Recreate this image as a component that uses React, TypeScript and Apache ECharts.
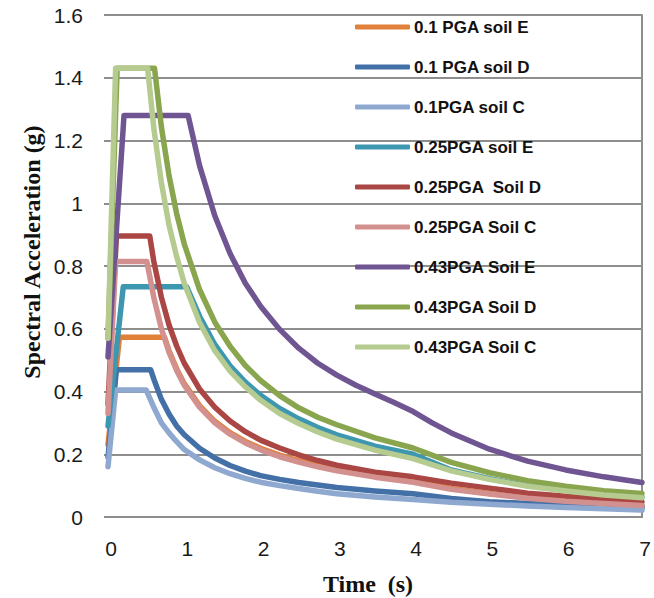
import React, { useEffect, useRef } from "react";
import * as echarts from "echarts";

// Period (s) vs spectral acceleration (g)
const pga010SoilE: [number, number][] = [[0, 0.23], [0.15, 0.573], [0.74, 0.573], [0.8, 0.53], [0.9, 0.472], [1.0, 0.425], [1.2, 0.355], [1.4, 0.305], [1.6, 0.269], [1.8, 0.241], [2.0, 0.219], [2.25, 0.197], [2.5, 0.18], [2.75, 0.165], [3.0, 0.152], [3.5, 0.132], [4.0, 0.116], [4.5, 0.091], [5.0, 0.075], [5.5, 0.061], [6.0, 0.051], [6.5, 0.044], [7.0, 0.037]];
const pga010SoilD: [number, number][] = [[0, 0.19], [0.11, 0.469], [0.56, 0.469], [0.6, 0.44], [0.7, 0.375], [0.8, 0.328], [0.9, 0.29], [1.0, 0.262], [1.2, 0.219], [1.4, 0.188], [1.6, 0.164], [1.8, 0.146], [2.0, 0.132], [2.25, 0.12], [2.5, 0.11], [2.75, 0.102], [3.0, 0.094], [3.5, 0.083], [4.0, 0.074], [4.5, 0.059], [5.0, 0.049], [5.5, 0.043], [6.0, 0.038], [6.5, 0.034], [7.0, 0.03]];
const pga010SoilC: [number, number][] = [[0, 0.16], [0.1, 0.405], [0.5, 0.405], [0.6, 0.35], [0.7, 0.3], [0.8, 0.268], [0.9, 0.24], [1.0, 0.215], [1.2, 0.182], [1.4, 0.157], [1.6, 0.138], [1.8, 0.123], [2.0, 0.111], [2.25, 0.1], [2.5, 0.091], [2.75, 0.082], [3.0, 0.074], [3.5, 0.064], [4.0, 0.056], [4.5, 0.047], [5.0, 0.041], [5.5, 0.035], [6.0, 0.03], [6.5, 0.026], [7.0, 0.022]];
const pga025SoilE: [number, number][] = [[0, 0.29], [0.2, 0.734], [1.03, 0.734], [1.2, 0.64], [1.4, 0.55], [1.6, 0.482], [1.8, 0.43], [2.0, 0.388], [2.25, 0.346], [2.5, 0.313], [2.75, 0.285], [3.0, 0.262], [3.5, 0.226], [4.0, 0.2], [4.5, 0.15], [5.0, 0.122], [5.5, 0.1], [6.0, 0.085], [6.5, 0.073], [7.0, 0.063]];
const pga025SoilD: [number, number][] = [[0, 0.36], [0.11, 0.896], [0.547, 0.896], [0.6, 0.815], [0.7, 0.7], [0.8, 0.612], [0.9, 0.545], [1.0, 0.49], [1.2, 0.408], [1.4, 0.35], [1.6, 0.306], [1.8, 0.272], [2.0, 0.245], [2.25, 0.22], [2.5, 0.198], [2.75, 0.18], [3.0, 0.165], [3.5, 0.143], [4.0, 0.128], [4.5, 0.108], [5.0, 0.092], [5.5, 0.076], [6.0, 0.066], [6.5, 0.056], [7.0, 0.048]];
const pga025SoilC: [number, number][] = [[0, 0.33], [0.1, 0.814], [0.51, 0.814], [0.6, 0.7], [0.7, 0.6], [0.8, 0.525], [0.9, 0.467], [1.0, 0.42], [1.2, 0.35], [1.4, 0.3], [1.6, 0.264], [1.8, 0.236], [2.0, 0.214], [2.25, 0.192], [2.5, 0.175], [2.75, 0.16], [3.0, 0.147], [3.5, 0.127], [4.0, 0.111], [4.5, 0.088], [5.0, 0.073], [5.5, 0.06], [6.0, 0.05], [6.5, 0.043], [7.0, 0.037]];
const pga043SoilE: [number, number][] = [[0, 0.51], [0.21, 1.28], [1.05, 1.28], [1.2, 1.12], [1.4, 0.96], [1.6, 0.84], [1.8, 0.745], [2.0, 0.672], [2.25, 0.598], [2.5, 0.538], [2.75, 0.49], [3.0, 0.452], [3.25, 0.42], [3.5, 0.392], [3.75, 0.365], [4.0, 0.336], [4.25, 0.3], [4.5, 0.268], [5.0, 0.216], [5.5, 0.178], [6.0, 0.15], [6.5, 0.128], [7.0, 0.11]];
const pga043SoilD: [number, number][] = [[0, 0.57], [0.12, 1.43], [0.61, 1.43], [0.7, 1.243], [0.8, 1.088], [0.9, 0.967], [1.0, 0.87], [1.2, 0.725], [1.4, 0.621], [1.6, 0.544], [1.8, 0.483], [2.0, 0.435], [2.25, 0.387], [2.5, 0.348], [2.75, 0.318], [3.0, 0.294], [3.5, 0.252], [4.0, 0.22], [4.5, 0.174], [5.0, 0.141], [5.5, 0.116], [6.0, 0.098], [6.5, 0.084], [7.0, 0.075]];
const pga043SoilC: [number, number][] = [[0, 0.57], [0.1, 1.43], [0.52, 1.43], [0.6, 1.24], [0.7, 1.065], [0.8, 0.93], [0.9, 0.83], [1.0, 0.745], [1.2, 0.62], [1.4, 0.53], [1.6, 0.465], [1.8, 0.415], [2.0, 0.372], [2.25, 0.33], [2.5, 0.298], [2.75, 0.271], [3.0, 0.248], [3.5, 0.213], [4.0, 0.186], [4.5, 0.147], [5.0, 0.12], [5.5, 0.098], [6.0, 0.083], [6.5, 0.07], [7.0, 0.061]];

const seriesNames = [
  "0.1 PGA soil E",
  "0.1 PGA soil D",
  "0.1PGA soil C",
  "0.25PGA soil E",
  "0.25PGA  Soil D",
  "0.25PGA Soil C",
  "0.43PGA Soil E",
  "0.43PGA Soil D",
  "0.43PGA Soil C",
];
const seriesData = [pga010SoilE, pga010SoilD, pga010SoilC, pga025SoilE, pga025SoilD, pga025SoilC, pga043SoilE, pga043SoilD, pga043SoilC];
const seriesColors = ["#E0803A", "#4470A8", "#8FA8D0", "#3E97B0", "#AA4643", "#D2908E", "#6F5592", "#89A54E", "#B5CB8F"];

const xTicks = { min: 0, max: 7, interval: 1 };
const yTicks = { min: 0, max: 1.6, interval: 0.2 };

const GRID = "#8E8E8E";
const TICK_FONT = "'Liberation Sans Narrow', 'Liberation Sans', sans-serif";

export default function App() {
  const ref = useRef<HTMLDivElement>(null);
  useEffect(() => {
    if (!ref.current) return;
    const chart = echarts.init(ref.current, null, { renderer: "svg" });
    chart.setOption({
      animation: false,
      backgroundColor: "#ffffff",
      grid: { left: 108, right: 12, top: 15, bottom: 81 },
      legend: {
        orient: "vertical",
        left: 355,
        top: 17,
        padding: 0,
        itemGap: 20,
        itemWidth: 55,
        itemHeight: 5,
        icon: "roundRect",
        data: seriesNames,
        textStyle: {
          fontFamily: "Liberation Sans",
          fontWeight: "bold",
          fontSize: 17,
          color: "#111",
          lineHeight: 20,
          padding: [0, 0, 0, -1],
        },
      },
      xAxis: {
        type: "value",
        min: xTicks.min,
        max: xTicks.max,
        interval: xTicks.interval,
        axisLine: { show: true, onZero: false, lineStyle: { color: GRID, width: 2 } },
        axisTick: { show: false },
        splitLine: { show: false },
        axisLabel: {
          margin: 21,
          fontFamily: TICK_FONT,
          fontSize: 21,
          color: "#1a1a1a",
          padding: [0, 0, 0, 6],
        },
      },
      yAxis: [
        {
          type: "value",
          min: yTicks.min,
          max: yTicks.max,
          interval: yTicks.interval,
          axisLine: { show: false },
          axisTick: { show: true, length: 4, lineStyle: { color: GRID, width: 2 } },
          splitLine: { show: true, lineStyle: { color: GRID, width: 2 } },
          axisLabel: {
            margin: 25,
            fontFamily: TICK_FONT,
            fontSize: 21,
            color: "#1a1a1a",
            formatter: (v: number) => String(Math.round(v * 10) / 10),
          },
        },
        {
          type: "value",
          position: "right",
          min: yTicks.min,
          max: yTicks.max,
          axisLine: { show: true, lineStyle: { color: GRID, width: 2 } },
          axisTick: { show: false },
          axisLabel: { show: false },
          splitLine: { show: false },
        },
      ],
      graphic: [
        {
          type: "text",
          x: 32,
          y: 252,
          rotation: Math.PI / 2,
          style: {
            text: "Spectral Acceleration (g)",
            fontFamily: "Liberation Serif",
            fontWeight: "bold",
            fontSize: 24,
            fill: "#111",
            align: "center",
            verticalAlign: "middle",
          },
        },
        {
          type: "text",
          x: 368,
          y: 584,
          style: {
            text: "Time  (s)",
            fontFamily: "Liberation Serif",
            fontWeight: "bold",
            fontSize: 24,
            fill: "#111",
            align: "center",
            verticalAlign: "middle",
          },
        },
      ],
      series: seriesNames.map((name, i) => ({
        name,
        type: "line",
        data: seriesData[i],
        showSymbol: false,
        symbol: "none",
        color: seriesColors[i],
        lineStyle: { width: 5.5, color: seriesColors[i], cap: "round", join: "round" },
        z: 2 + i * 0.01,
      })),
    });
    return () => chart.dispose();
  }, []);
  return (
    <div
      ref={ref}
      style={{ position: "fixed", left: 0, top: 0, width: 654, height: 598, background: "#fff" }}
    />
  );
}
